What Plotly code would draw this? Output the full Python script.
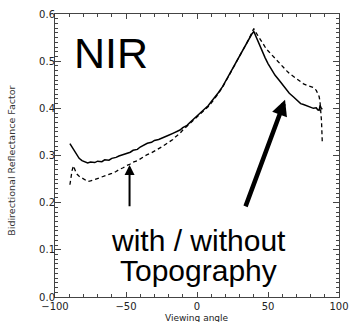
import plotly.graph_objects as go

# Solid curve (with topography)
solid_x = [-89.5, -88, -87, -85, -83, -81, -79, -77, -75, -72, -70, -67, -65, -62, -60, -57, -55, -52, -50,
           -47, -45, -42, -40, -37, -35, -32, -30, -27, -25, -22, -20, -17, -15, -12, -10, -7, -5, -2, 0,
           3, 5, 8, 10, 13, 15, 18, 20, 23, 25, 28, 30, 33, 35, 37, 38.5, 40, 41, 43, 45, 48, 50, 53, 55,
           58, 60, 63, 65, 68, 70, 73, 75, 78, 80, 82, 84, 85, 86, 86.7, 87.5, 88.3]
solid_y = [0.325, 0.318, 0.311, 0.302, 0.294, 0.289, 0.286, 0.284, 0.286, 0.285, 0.288, 0.287, 0.291, 0.290,
           0.294, 0.296, 0.299, 0.302, 0.305, 0.307, 0.311, 0.313, 0.318, 0.322, 0.326, 0.328, 0.332, 0.334,
           0.337, 0.341, 0.343, 0.347, 0.350, 0.354, 0.359, 0.364, 0.370, 0.378, 0.384, 0.391, 0.398, 0.406,
           0.414, 0.425, 0.433, 0.446, 0.457, 0.472, 0.485, 0.500, 0.510, 0.527, 0.537, 0.548, 0.557, 0.563,
           0.556, 0.540, 0.525, 0.507, 0.495, 0.480, 0.470, 0.459, 0.451, 0.440, 0.432, 0.424, 0.418, 0.410,
           0.408, 0.404, 0.403, 0.400, 0.401, 0.397, 0.396, 0.406, 0.400, 0.398]

# Dashed curve (without topography)
dashed_x = [-89.5, -88.7, -88, -87, -86, -85, -83, -81, -79, -77, -75, -72, -70, -67, -65, -62, -60, -57,
            -55, -52, -50, -47, -45, -42, -40, -37, -35, -32, -30, -27, -25, -22, -20, -17, -15, -12, -10,
            -7, -5, -2, 0, 3, 5, 8, 10, 13, 15, 18, 20, 23, 25, 28, 30, 33, 35, 37, 38.5, 40, 41, 43, 45,
            48, 50, 53, 55, 58, 60, 63, 65, 68, 70, 73, 75, 78, 80, 82, 84, 85, 86, 86.6, 87.2, 87.7, 88.2]
dashed_y = [0.238, 0.255, 0.268, 0.278, 0.270, 0.262, 0.256, 0.252, 0.248, 0.245, 0.246, 0.249, 0.252,
            0.255, 0.257, 0.260, 0.262, 0.266, 0.270, 0.274, 0.278, 0.282, 0.286, 0.289, 0.293, 0.298,
            0.302, 0.306, 0.309, 0.314, 0.318, 0.324, 0.328, 0.334, 0.340, 0.347, 0.354, 0.362, 0.368,
            0.376, 0.382, 0.390, 0.396, 0.404, 0.411, 0.422, 0.431, 0.445, 0.455, 0.471, 0.483, 0.500,
            0.510, 0.528, 0.538, 0.550, 0.559, 0.569, 0.563, 0.553, 0.544, 0.530, 0.522, 0.512, 0.505,
            0.495, 0.488, 0.480, 0.474, 0.467, 0.462, 0.456, 0.452, 0.448, 0.446, 0.444, 0.438, 0.433,
            0.425, 0.415, 0.398, 0.372, 0.330]

x_ticks = [-100, -50, 0, 50, 100]
x_tick_labels = ["\u2212100", "\u221250", "0", "50", "100"]
y_ticks = [0.0, 0.1, 0.2, 0.3, 0.4, 0.5, 0.6]
y_tick_labels = ["0.0", "0.1", "0.2", "0.3", "0.4", "0.5", "0.6"]

fig = go.Figure()
fig.add_trace(go.Scatter(x=solid_x, y=solid_y, mode="lines",
                         line=dict(color="black", width=1.5), showlegend=False))
fig.add_trace(go.Scatter(x=dashed_x, y=dashed_y, mode="lines",
                         line=dict(color="black", width=1.3, dash="4px,3px"), showlegend=False))

tickfont = dict(family="DejaVu Sans", size=10, color="#222")
common = dict(showgrid=False, zeroline=False, showline=True, linecolor="#444", linewidth=1,
              mirror="allticks", ticks="inside", tickcolor="#444", tickfont=tickfont)

fig.update_xaxes(range=[-100, 100], tickvals=x_ticks, ticktext=x_tick_labels, ticklen=5,
                 minor=dict(ticks="inside", dtick=10, ticklen=3, tickcolor="#444"),
                 automargin=False, **common)
fig.update_yaxes(range=[0, 0.6], tickvals=y_ticks, ticktext=y_tick_labels, ticklen=6,
                 minor=dict(ticks="inside", dtick=0.01, ticklen=3, tickcolor="#444"),
                 ticklabelstandoff=-3, automargin=False, **common)

annots = [
    dict(x=-60.6, y=0.518, xref="x", yref="y", text="NIR", showarrow=False,
         font=dict(family="Liberation Sans", size=43, color="black"), xanchor="center", yanchor="middle"),
    dict(x=1.4, y=0.120, xref="x", yref="y", text="with / without", showarrow=False,
         font=dict(family="Liberation Sans", size=30, color="black"), xanchor="center", yanchor="middle"),
    dict(x=1.4, y=0.057, xref="x", yref="y", text="Topography", showarrow=False,
         font=dict(family="Liberation Sans", size=30, color="black"), xanchor="center", yanchor="middle"),
    # small arrow
    dict(x=-47.5, y=0.280, xref="x", yref="y", ax=-47.5, ay=0.189, axref="x", ayref="y",
         text="", showarrow=True, arrowhead=2, arrowsize=1, arrowwidth=2, arrowcolor="black", standoff=0),
    # big arrow
    dict(x=62.0, y=0.418, xref="x", yref="y", ax=33.8, ay=0.189, axref="x", ayref="y",
         text="", showarrow=True, arrowhead=2, arrowsize=0.7, arrowwidth=4.5, arrowcolor="black", standoff=0),
    # axis titles
    dict(x=0.5, y=-0.073, xref="paper", yref="paper", text="Viewing angle", showarrow=False,
         font=dict(family="DejaVu Sans", size=9, color="#222"), xanchor="center", yanchor="middle"),
    dict(x=-0.153, y=0.48, xref="paper", yref="paper", text="Bidirectional Reflectance Factor",
         showarrow=False, textangle=-90,
         font=dict(family="DejaVu Sans", size=9.5, color="#333"), xanchor="center", yanchor="middle"),
]

fig.update_layout(width=350, height=322, margin=dict(l=55, r=11, t=14, b=25),
                  paper_bgcolor="white", plot_bgcolor="white", annotations=annots)

fig.write_html("out.html")
